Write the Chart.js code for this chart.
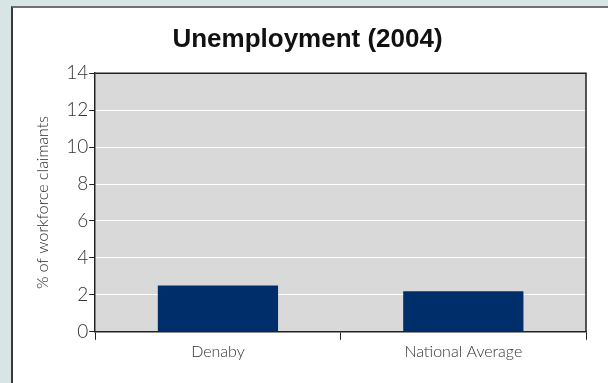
<!DOCTYPE html>
<html>
<head>
<meta charset="utf-8">
<script src="https://cdn.jsdelivr.net/npm/chart.js@4"></script>
<style>
    body { margin: 0; background: #d7e6e5; width: 608px; height: 383px; overflow: hidden; }
    #panel {
        position: absolute; left: 11px; top: 6px;
        width: 595px; height: 375px;
        background: #fff;
        border-left: 2px solid #3a3a3a;
        border-top: 2px solid #707070;
    }
</style>
</head>
<body>
<div id="panel"><canvas id="barChart" width="595" height="375"></canvas></div>
<script>
var labels = ['Denaby', 'National Average'];
var claimants = [2.5, 2.2];
var yTicks = [0, 2, 4, 6, 8, 10, 12, 14];

// grey plot background plus the top/right frame
var plotFrame = {
    id: 'plotFrame',
    beforeDraw: function (chart) {
        var a = chart.chartArea, ctx = chart.ctx;
        ctx.save();
        ctx.fillStyle = '#d9d9d9';
        ctx.fillRect(a.left, a.top, a.right - a.left, a.bottom - a.top);
        ctx.restore();
    },
    afterDraw: function (chart) {
        var a = chart.chartArea, ctx = chart.ctx;
        ctx.save();
        ctx.strokeStyle = '#222';
        ctx.lineWidth = 1.5;
        ctx.beginPath();
        ctx.moveTo(a.left, a.top);
        ctx.lineTo(a.right, a.top);
        ctx.lineTo(a.right, a.bottom);
        ctx.stroke();
        ctx.restore();
    }
};

var tickFont = { family: 'Lato', size: 16, weight: 300 };

new Chart(document.getElementById('barChart').getContext('2d'), {
    type: 'bar',
    data: {
        labels: labels,
        datasets: [{
            data: claimants,
            backgroundColor: '#002e6b',
            categoryPercentage: 1,
            barPercentage: 0.49
        }]
    },
    options: {
        responsive: false,
        animation: false,
        layout: { padding: { left: 16, right: 22, bottom: 20, top: 0 } },
        plugins: {
            legend: { display: false },
            tooltip: { enabled: false },
            title: {
                display: true,
                text: 'Unemployment (2004)',
                color: '#111',
                font: { family: 'Liberation Sans', size: 26, weight: 'bold' },
                padding: { top: 16, bottom: 18 }
            }
        },
        scales: {
            x: {
                grid: { offset: true, drawOnChartArea: false, tickLength: 8, color: '#222', tickColor: '#222' },
                border: { color: '#222', width: 1.5 },
                ticks: { color: '#333', font: tickFont, padding: 2 }
            },
            y: {
                min: 0,
                max: 14,
                afterBuildTicks: function (scale) {
                    scale.ticks = yTicks.map(function (v) { return { value: v }; });
                },
                grid: { color: '#ffffff', lineWidth: 1, tickColor: '#222', tickLength: 6 },
                border: { color: '#222', width: 1.5 },
                ticks: { color: '#333', font: { family: 'Lato', size: 19, weight: 300 }, padding: 1 },
                title: {
                    display: true,
                    text: '% of workforce claimants',
                    color: '#2a2a2a',
                    font: { family: 'Lato', size: 16, weight: 300 },
                    padding: { bottom: 13 }
                }
            }
        }
    },
    plugins: [plotFrame]
});
</script>
</body>
</html>
